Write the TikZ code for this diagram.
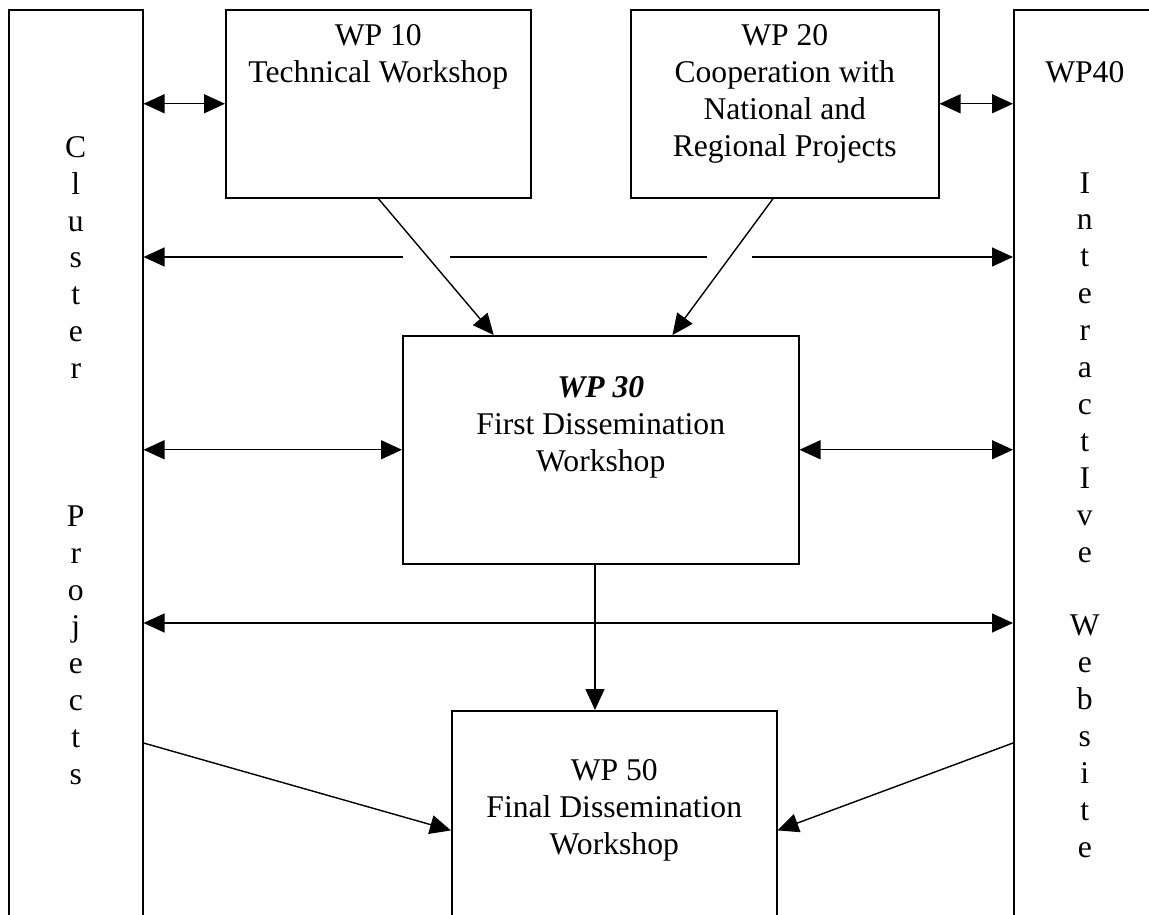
\documentclass[tikz,border=0pt]{standalone}
\usepackage{fontspec}
\setmainfont{Liberation Serif}
\usetikzlibrary{arrows.meta, positioning, calc}
\tikzset{
  wpbox/.style={rectangle, draw, line width=0.9pt, anchor=north west, inner sep=0pt},
  boxtext/.style={align=center, inner sep=0pt, anchor=north,
                  font=\fontsize{18}{21}\selectfont},
  arrow/.style={-{Triangle[length=0.42cm, width=0.38cm]}, line width=0.8pt},
  biarrow/.style={{Triangle[length=0.42cm, width=0.38cm]}-{Triangle[length=0.42cm, width=0.38cm]},
                  line width=0.8pt}
}

\begin{document}
\begin{tikzpicture}[x=0.02cm, y=-0.02cm]
    \useasboundingbox (0,0) rectangle (1149,915);

    % boxes
    \node[wpbox, minimum width=2.68cm, minimum height=18.12cm] (cluster) at (8,9) {};
    \node[wpbox, minimum width=6.1cm, minimum height=3.76cm] (wp10) at (225,9) {};
    \node[wpbox, minimum width=6.16cm, minimum height=3.76cm] (wp20) at (630,9) {};
    \node[wpbox, minimum width=2.84cm, minimum height=18.12cm] (wp40) at (1013,9) {};
    \node[wpbox, minimum width=7.92cm, minimum height=4.56cm] (wp30) at (402,335) {};
    \node[wpbox, minimum width=6.5cm, minimum height=4.1cm] (wp50) at (451,710) {};

    % texts
    \node[boxtext, below=0.3cm of wp10.north] (wp10txt) {WP 10\\Technical Workshop};
    \node[boxtext, below=0.3cm of wp20.north] (wp20txt)
        {WP 20\\Cooperation with\\National and\\Regional Projects};
    \node[boxtext, below=0.82cm of wp30.north] (wp30txt)
        {\textbf{\textit{WP 30}}\\First Dissemination\\Workshop};
    \node[boxtext, below=0.98cm of wp50.north] (wp50txt)
        {WP 50\\Final Dissemination\\Workshop};
    \node[boxtext, below=2.54cm of cluster.north] (clustertxt)
        {C\\l\\u\\s\\t\\e\\r\\[3\baselineskip]P\\r\\o\\j\\e\\c\\t\\s};
    \node[boxtext, below=1.04cm of wp40.north] (wp40txt)
        {WP40\\[2\baselineskip]I\\n\\t\\e\\r\\a\\c\\t\\I\\v\\e\\[\baselineskip]W\\e\\b\\s\\i\\t\\e};

    % free ends of the broken line and the rows
    \coordinate (gapAl) at (403,257);
    \coordinate (gapAr) at (450,257);
    \coordinate (gapBl) at (707,257);
    \coordinate (gapBr) at (752,257);
    \coordinate (hub) at (595,623);
    \coordinate (lowrow) at (600,743);

    % connectors
    \draw[biarrow] (wp10.west -| cluster.east) -- (wp10.west);
    \draw[biarrow] (wp20.east) -- (wp20.east -| wp40.west);

    \draw[arrow] (gapAl) -- (gapAl -| cluster.east);
    \draw[line width=0.8pt] (gapAr) -- (gapBl);
    \draw[arrow] (gapBr) -- (gapBr -| wp40.west);

    \draw[arrow] (wp10.south) -- (wp30.133);
    \draw[arrow] (wp20.263) -- (wp30.58);

    \draw[biarrow] (wp30.west -| cluster.east) -- (wp30.west);
    \draw[biarrow] (wp30.east) -- (wp30.east -| wp40.west);

    \draw[biarrow] (hub -| cluster.east) -- (hub -| wp40.west);
    \draw[arrow] (wp30.south -| hub) -- (wp50.north -| hub);

    \draw[arrow] (lowrow -| cluster.east) -- (wp50.186);
    \draw[arrow] (lowrow -| wp40.west) -- (wp50.354);
\end{tikzpicture}
\end{document}
